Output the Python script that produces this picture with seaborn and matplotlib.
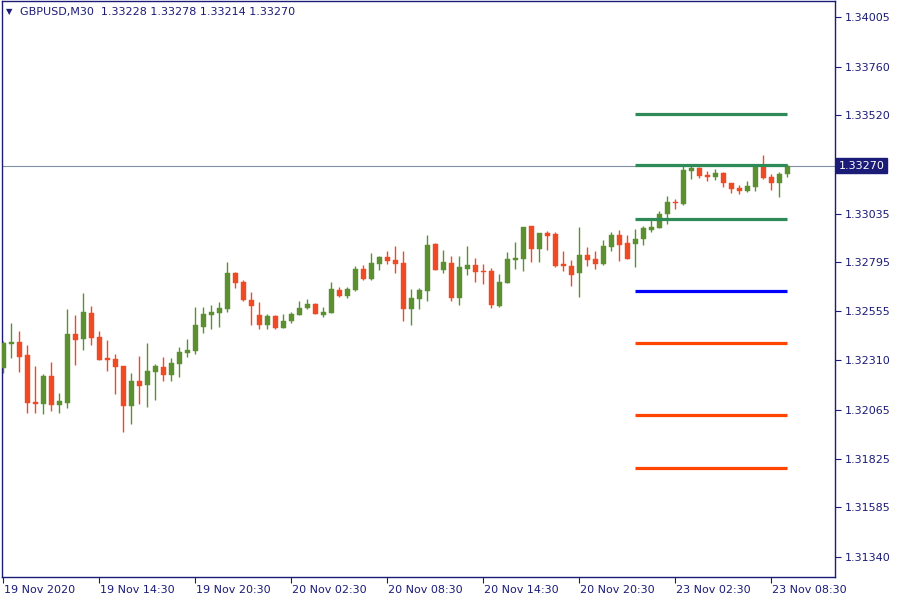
import numpy as np
import matplotlib
matplotlib.use("Agg")
import matplotlib.pyplot as plt
import matplotlib.transforms as mtransforms
import seaborn as sns

# GBPUSD M30 candles, 19 Nov 2020 08:30 -> 23 Nov 09:30
opens = [
    1.32274, 1.32392, 1.32401, 1.32337, 1.32104, 1.32096, 1.32233, 1.32091, 1.32101, 1.32440,
    1.32417, 1.32544, 1.32425, 1.32322, 1.32317, 1.32282, 1.32086, 1.32208, 1.32190, 1.32254,
    1.32277, 1.32239, 1.32294, 1.32348, 1.32358, 1.32476, 1.32536, 1.32546, 1.32565, 1.32742,
    1.32697, 1.32608, 1.32534, 1.32486, 1.32529, 1.32471, 1.32506, 1.32536, 1.32570, 1.32589,
    1.32536, 1.32546, 1.32658, 1.32630, 1.32659, 1.32761, 1.32712, 1.32788, 1.32821, 1.32806,
    1.32791, 1.32565, 1.32614, 1.32653, 1.32885, 1.32757, 1.32791, 1.32618, 1.32763, 1.32781,
    1.32752, 1.32752, 1.32579, 1.32694, 1.32806, 1.32811, 1.32974, 1.32860, 1.32939, 1.32934,
    1.32786, 1.32776, 1.32742, 1.32831, 1.32811, 1.32786, 1.32870, 1.32929, 1.32890, 1.32885,
    1.32911, 1.32954, 1.32966, 1.33033, 1.33092, 1.33083, 1.33246, 1.33260, 1.33226, 1.33216,
    1.33236, 1.33186, 1.33162, 1.33147, 1.33167, 1.33275, 1.33216, 1.33186, 1.33228]
highs = [
    1.32406, 1.32496, 1.32455, 1.32386, 1.32282, 1.32243, 1.32302, 1.32149, 1.32564, 1.32534,
    1.32643, 1.32579, 1.32455, 1.32411, 1.32342, 1.32282, 1.32248, 1.32332, 1.32396, 1.32292,
    1.32327, 1.32322, 1.32376, 1.32416, 1.32574, 1.32574, 1.32584, 1.32598, 1.32796, 1.32747,
    1.32707, 1.32648, 1.32598, 1.32539, 1.32534, 1.32539, 1.32549, 1.32603, 1.32613, 1.32594,
    1.32574, 1.32697, 1.32673, 1.32673, 1.32776, 1.32781, 1.32841, 1.32826, 1.32850, 1.32875,
    1.32850, 1.32663, 1.32668, 1.32929, 1.32890, 1.32855, 1.32826, 1.32826, 1.32875, 1.32816,
    1.32786, 1.32766, 1.32737, 1.32845, 1.32895, 1.32969, 1.32974, 1.32939, 1.32949, 1.32944,
    1.32850, 1.32806, 1.32969, 1.32870, 1.32850, 1.32905, 1.32944, 1.32954, 1.32929, 1.32959,
    1.32974, 1.33008, 1.33048, 1.33122, 1.33107, 1.33270, 1.33270, 1.33265, 1.33246, 1.33255,
    1.33241, 1.33186, 1.33176, 1.33196, 1.33270, 1.33325, 1.33231, 1.33241, 1.33278]
lows = [
    1.32249, 1.32323, 1.32254, 1.32049, 1.32052, 1.32047, 1.32061, 1.32052, 1.32076, 1.32289,
    1.32363, 1.32388, 1.32312, 1.32259, 1.32145, 1.31958, 1.31996, 1.32096, 1.32081, 1.32116,
    1.32210, 1.32210, 1.32229, 1.32328, 1.32342, 1.32447, 1.32467, 1.32476, 1.32549, 1.32669,
    1.32603, 1.32486, 1.32467, 1.32467, 1.32467, 1.32471, 1.32496, 1.32536, 1.32565, 1.32541,
    1.32526, 1.32542, 1.32622, 1.32620, 1.32654, 1.32707, 1.32707, 1.32758, 1.32788, 1.32743,
    1.32506, 1.32486, 1.32565, 1.32605, 1.32757, 1.32743, 1.32605, 1.32585, 1.32733, 1.32699,
    1.32689, 1.32569, 1.32572, 1.32692, 1.32761, 1.32752, 1.32796, 1.32796, 1.32855, 1.32771,
    1.32752, 1.32677, 1.32623, 1.32776, 1.32761, 1.32781, 1.32850, 1.32801, 1.32811, 1.32771,
    1.32880, 1.32944, 1.32966, 1.32984, 1.33058, 1.33078, 1.33206, 1.33211, 1.33196, 1.33201,
    1.33167, 1.33137, 1.33132, 1.33142, 1.33147, 1.33206, 1.33152, 1.33117, 1.33214]
closes = [
    1.32396, 1.32401, 1.32328, 1.32101, 1.32096, 1.32231, 1.32091, 1.32109, 1.32440, 1.32412,
    1.32549, 1.32422, 1.32312, 1.32313, 1.32277, 1.32086, 1.32208, 1.32183, 1.32258, 1.32282,
    1.32239, 1.32296, 1.32351, 1.32361, 1.32485, 1.32539, 1.32549, 1.32569, 1.32742, 1.32694,
    1.32608, 1.32580, 1.32486, 1.32529, 1.32471, 1.32505, 1.32539, 1.32569, 1.32589, 1.32541,
    1.32549, 1.32663, 1.32628, 1.32663, 1.32761, 1.32712, 1.32791, 1.32821, 1.32802, 1.32788,
    1.32565, 1.32618, 1.32658, 1.32880, 1.32757, 1.32796, 1.32618, 1.32771, 1.32781, 1.32747,
    1.32747, 1.32585, 1.32697, 1.32811, 1.32816, 1.32969, 1.32860, 1.32939, 1.32924, 1.32776,
    1.32776, 1.32732, 1.32831, 1.32806, 1.32786, 1.32875, 1.32929, 1.32880, 1.32811, 1.32910,
    1.32964, 1.32969, 1.33033, 1.33092, 1.33087, 1.33251, 1.33260, 1.33221, 1.33217, 1.33236,
    1.33186, 1.33157, 1.33147, 1.33172, 1.33270, 1.33211, 1.33186, 1.33231, 1.33270]

# pivot style levels drawn on the right
level_prices = [1.33527, 1.33275, 1.33008, 1.32652, 1.32396, 1.32040, 1.31778]
level_start, level_end = 79, 98

y_ticks = [1.34005, 1.33760, 1.33520, 1.33035, 1.32795, 1.32555,
           1.32310, 1.32065, 1.31825, 1.31585, 1.31340]
x_tick_bars = [0, 12, 24, 36, 48, 60, 72, 84, 96]
x_tick_labels = ["19 Nov 2020", "19 Nov 14:30", "19 Nov 20:30", "20 Nov 02:30",
                 "20 Nov 08:30", "20 Nov 14:30", "20 Nov 20:30", "23 Nov 02:30",
                 "23 Nov 08:30"]
last_price = 1.33270
header = "GBPUSD,M30  1.33228 1.33278 1.33214 1.33270"

sns.set_theme(style="white")
plt.rcParams["font.family"] = ["DejaVu Sans"]

NAVY = "#1b1b78"
UP = "#5b8f30"
DOWN = "#f04a24"
level_colors = ["#2e8b57"] * 3 + ["#0000ff"] + ["#ff4500"] * 3

o = np.array(opens); h = np.array(highs); l = np.array(lows); c = np.array(closes)
idx = np.arange(len(o))
up = c >= o
cols = np.where(up, UP, DOWN)

fig = plt.figure(figsize=(9, 6), dpi=100)
ax = fig.add_axes([2 / 900, 23 / 600, 833 / 900, 576 / 600])
ax.set_facecolor("white")

# last price line behind candles
ax.axhline(last_price, color="#7f8fa6", lw=0.8, zorder=1)

# wicks + bodies
ax.vlines(idx, l, h, colors=cols, lw=1.0, zorder=2)
body_lo = np.minimum(o, c)
body_h = np.maximum(np.abs(c - o), 0.00002)
ax.bar(idx, body_h, bottom=body_lo, width=0.62, color=cols, edgecolor=cols,
       linewidth=0.3, zorder=3)

ax.hlines(level_prices, level_start, level_end, colors=level_colors, lw=2.3, zorder=4)

ax.set_xlim(-0.1625, -0.1625 + 833 / 8)
ax.set_ylim(1.31241, 1.34084)

for sp in ax.spines.values():
    sp.set_color(NAVY)
    sp.set_linewidth(1.0)

ax.yaxis.tick_right()
ax.set_yticks(y_ticks)
ax.set_yticklabels([f"{v:.5f}" for v in y_ticks])
ax.set_xticks(x_tick_bars)
ax.set_xticklabels(x_tick_labels, ha="left")
ax.tick_params(axis="both", direction="out", length=4, width=0.8, color=NAVY,
               labelcolor=NAVY, labelsize=8)
ax.tick_params(axis="y", pad=3)
ax.tick_params(axis="x", pad=2, bottom=True)
for lab in ax.get_xticklabels():
    lab.set_x(lab.get_position()[0])
offset = mtransforms.ScaledTranslation(1 / 100, 0, fig.dpi_scale_trans)
for lab in ax.get_xticklabels():
    lab.set_transform(lab.get_transform() + offset)
ax.grid(False)
ax.set_xlabel("")
ax.set_ylabel("")

# price tag on the axis
trans = mtransforms.blended_transform_factory(ax.transAxes, ax.transData)
ax.text(1.004, last_price, "1.33270", transform=trans, color="white", fontsize=8,
        va="center", ha="left", clip_on=False,
        bbox=dict(boxstyle="square,pad=0.22", fc=NAVY, ec=NAVY))

# header
fig.text(6 / 900, 1 - 12 / 600, "\u25bc", color=NAVY, fontsize=6, va="center", ha="left")
fig.text(20 / 900, 1 - 12 / 600, header, color=NAVY, fontsize=8, va="center", ha="left")

fig.savefig("out.png", dpi=100, facecolor="white")
